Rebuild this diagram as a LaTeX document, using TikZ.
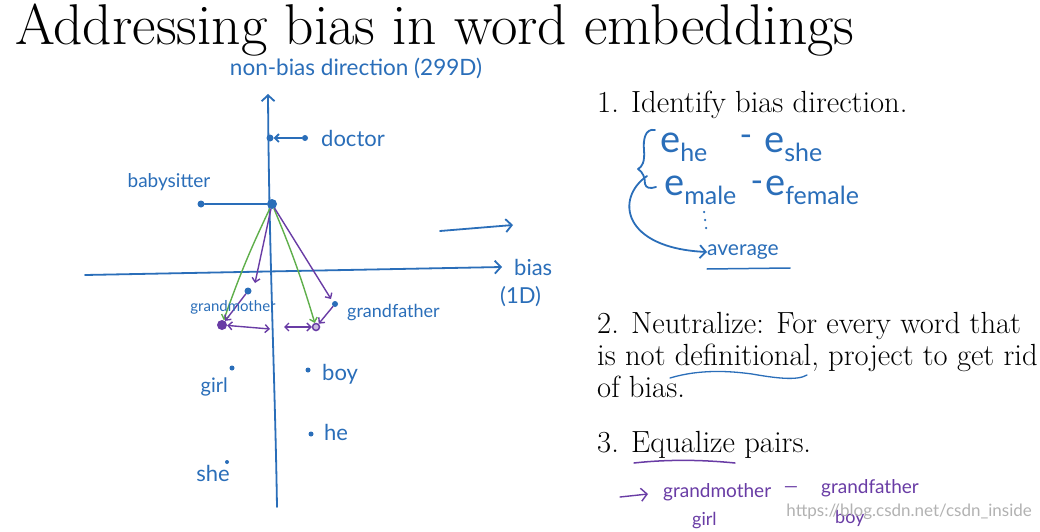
\documentclass[tikz,border=0pt]{standalone}
\usepackage{fontspec}
\newfontfamily\hand{Lato}
\usetikzlibrary{arrows.meta}
\definecolor{hblue}{RGB}{42,110,185}
\definecolor{hgreen}{RGB}{95,175,75}
\definecolor{hpurple}{RGB}{105,60,165}
\newcommand\ee[1]{{\fontsize{38pt}{38pt}\selectfont e}\raisebox{-9pt}{\fontsize{25pt}{25pt}\selectfont #1}}
\begin{document}
\begin{tikzpicture}[x=1pt,y=-1pt,
  ink/.style={line width=1.8pt, line cap=round, line join=round},
  bl/.style={ink, draw=hblue},
  gr/.style={ink, draw=hgreen, line width=1.4pt},
  pu/.style={ink, draw=hpurple, line width=1.4pt},
  barb/.style={-{Straight Barb[length=6pt,width=13pt]}},
  sbarb/.style={-{Straight Barb[length=4pt,width=8pt]}},
  dbarb/.style={{Straight Barb[length=4pt,width=8pt]}-{Straight Barb[length=4pt,width=8pt]}},
  hw/.style={font=\hand\fontsize{20pt}{22pt}\selectfont, text=hblue, inner sep=0pt},
  pw/.style={font=\hand\fontsize{18pt}{20pt}\selectfont, text=hpurple, inner sep=0pt},
  slide/.style={font=\fontsize{30.6pt}{34pt}\selectfont, inner sep=0pt, anchor=base west},
  dot/.style={circle, fill=hblue, inner sep=0pt, minimum size=7pt}
]
\useasboundingbox[fill=white] (0,0) rectangle (1040,532);

% title
\node[anchor=base west, inner sep=0pt, font=\fontsize{57.5pt}{62pt}\selectfont] (title) at (15,45) {Addressing bias in word embeddings};

% axes
\coordinate (vbot) at (277,507);
\coordinate (vtop) at (268,94);
\draw[bl, barb] (vbot) .. controls (275,380) and (269,250) .. (vtop);
\coordinate (hl) at (85,275);
\coordinate (hr) at (502,267);
\draw[bl, barb] (hl) -- (hr);
\node[hw, font=\hand\fontsize{22.5pt}{24pt}\selectfont] (nonbias) at (356,68) {non-bias direction (299D)};
\node[hw, font=\hand\fontsize{22pt}{24pt}\selectfont, anchor=west] (bias) at (514,267) {bias};
\node[hw, font=\hand\fontsize{22pt}{24pt}\selectfont, anchor=west] (oned) at (500,297) {(1D)};
\coordinate (sa1) at (440,231);
\coordinate (sa2) at (513,225);
\draw[bl, barb] (sa1) -- (sa2);

% doctor
\node[dot, minimum size=6pt] (docw) at (305,138) {};
\node[dot] (docp) at (270,138) {};
\draw[bl, sbarb] (docw) -- (docp);
\node[hw, font=\hand\fontsize{22pt}{24pt}\selectfont, anchor=west] (doctor) at (321,138) {doctor};

% babysitter
\node[dot] (bsw) at (201,204) {};
\node[dot, minimum size=10pt] (bsp) at (272,204) {};
\draw[bl] (bsw) -- (bsp);
\node[hw, font=\hand\fontsize{19pt}{20pt}\selectfont] (babysitter) at (169,182) {babysitter};

% grandmother / grandfather
\node[dot, minimum size=7pt] (gmw) at (248,291) {};
\node[dot, fill=hpurple, minimum size=10pt] (gme) at (222,325) {};
\node[dot, minimum size=6pt] (gfw) at (335,304) {};
\node[circle, draw=hpurple, fill=hpurple!35, line width=1.5pt, inner sep=0pt, minimum size=7pt] (gfe) at (316,327) {};
\draw[gr, sbarb] (bsp) to[bend right=3] (gme);
\draw[gr, sbarb] (bsp) to[bend left=3] (gfe);
\coordinate (pa1) at (255,283);
\coordinate (pa2) at (331,299);
\draw[pu, sbarb] (bsp) -- (pa1);
\draw[pu, sbarb] (bsp) -- (pa2);
\draw[pu, sbarb] (gmw) -- (gme);
\draw[pu, sbarb] (gfw) -- (gfe);
\coordinate (ax1) at (270,329);
\coordinate (ax2) at (284,327);
\draw[pu, dbarb] (gme) -- (ax1);
\draw[pu, dbarb] (ax2) -- (gfe);
\node[hw, font=\hand\fontsize{15pt}{16pt}\selectfont] (gmlabel) at (233,307) {grandmother};
\node[hw, font=\hand\fontsize{18pt}{18pt}\selectfont, anchor=west] (gflabel) at (347,313) {grandfather};

% girl, boy, he, she
\node[dot, minimum size=5pt] (girlp) at (232,368) {};
\node[hw, anchor=east] (girl) at (228,387) {girl};
\node[dot, minimum size=5pt] (boyp) at (308,370) {};
\node[hw, font=\hand\fontsize{22pt}{24pt}\selectfont, anchor=west] (boy) at (322,374) {boy};
\node[dot, minimum size=5pt] (hep) at (311,434) {};
\node[hw, font=\hand\fontsize{22pt}{24pt}\selectfont, anchor=west] (he) at (324,432) {he};
\node[dot, minimum size=4pt] (shep) at (227,462) {};
\node[hw, font=\hand\fontsize{22pt}{24pt}\selectfont] (she) at (213,473) {she};

% right side: step 1
\node[slide] (s1) at (597,113) {1. Identify bias direction.};
\draw[bl] (655,130) .. controls (645,128) and (643,140) .. (644,150)
  .. controls (645,162) and (642,167) .. (638,169)
  .. controls (643,172) and (645,178) .. (645,184)
  .. controls (646,188) and (650,189) .. (656,187);
\node[hw, anchor=base west] (ehe) at (660,152) {\ee{he}};
\node[hw, font=\hand\fontsize{34pt}{34pt}\selectfont] (m1) at (746,141) {-};
\node[hw, anchor=base west] (eshe) at (764,152) {\ee{she}};
\node[hw, anchor=base west] (emale) at (664,195) {\ee{male}};
\node[hw, font=\hand\fontsize{34pt}{34pt}\selectfont] (m2) at (757,187) {-};
\node[hw, anchor=base west] (efemale) at (765,195) {\ee{female}};
\node[dot, minimum size=2.5pt] (vd1) at (704,212) {};
\node[dot, minimum size=2.5pt] (vd2) at (705,220) {};
\node[dot, minimum size=2.5pt] (vd3) at (706,228) {};
\node[hw, font=\hand\fontsize{21pt}{22pt}\selectfont, anchor=west] (avg) at (707,252) {average};
\coordinate (cstart) at (647,176);
\draw[bl, barb] (cstart) .. controls (615,198) and (622,248) .. (avg.west);
\coordinate (ul1) at (707,269);
\coordinate (ul2) at (790,268);
\draw[bl, line width=1.5pt] (ul1) -- (ul2);

% step 2
\node[slide] (s2a) at (597,333) {2. Neutralize: For every word that};
\node[slide] (s2b) at (597,365) {is not definitional, project to get rid};
\node[slide] (s2c) at (597,397) {of bias.};
\coordinate (w1) at (670,378);
\coordinate (w2) at (807,375);
\draw[bl, line width=1.3pt] (w1) .. controls (700,369) and (730,371) .. (752,374)
  .. controls (775,378) and (797,381) .. (w2);

% step 3
\node[slide] (s3) at (597,452) {3. Equalize pairs.};
\coordinate (e1) at (634,463);
\coordinate (e2) at (735,463);
\draw[pu, line width=1.5pt] (e1) .. controls (670,459) and (705,460) .. (e2);
\coordinate (pa) at (620,497);
\coordinate (pb) at (648,494);
\draw[pu, barb] (pa) -- (pb);
\node[pw, font=\hand\fontsize{19pt}{20pt}\selectfont, anchor=west] (gm2) at (663,492) {grandmother};
\node[pw] (dash) at (791,490) {—};
\node[pw, font=\hand\fontsize{19pt}{20pt}\selectfont, anchor=west] (gf2) at (821,488) {grandfather};
\node[pw, anchor=west] (girl2) at (692,521) {girl};
\node[pw, anchor=west] (boy2) at (835,518) {boy};

% watermark
\node[text=black!30, font=\hand\fontsize{17pt}{18pt}\selectfont, anchor=east, inner sep=0pt] (wm) at (1032,512) {https://blog.csdn.net/csdn\_inside};
\end{tikzpicture}
\end{document}
